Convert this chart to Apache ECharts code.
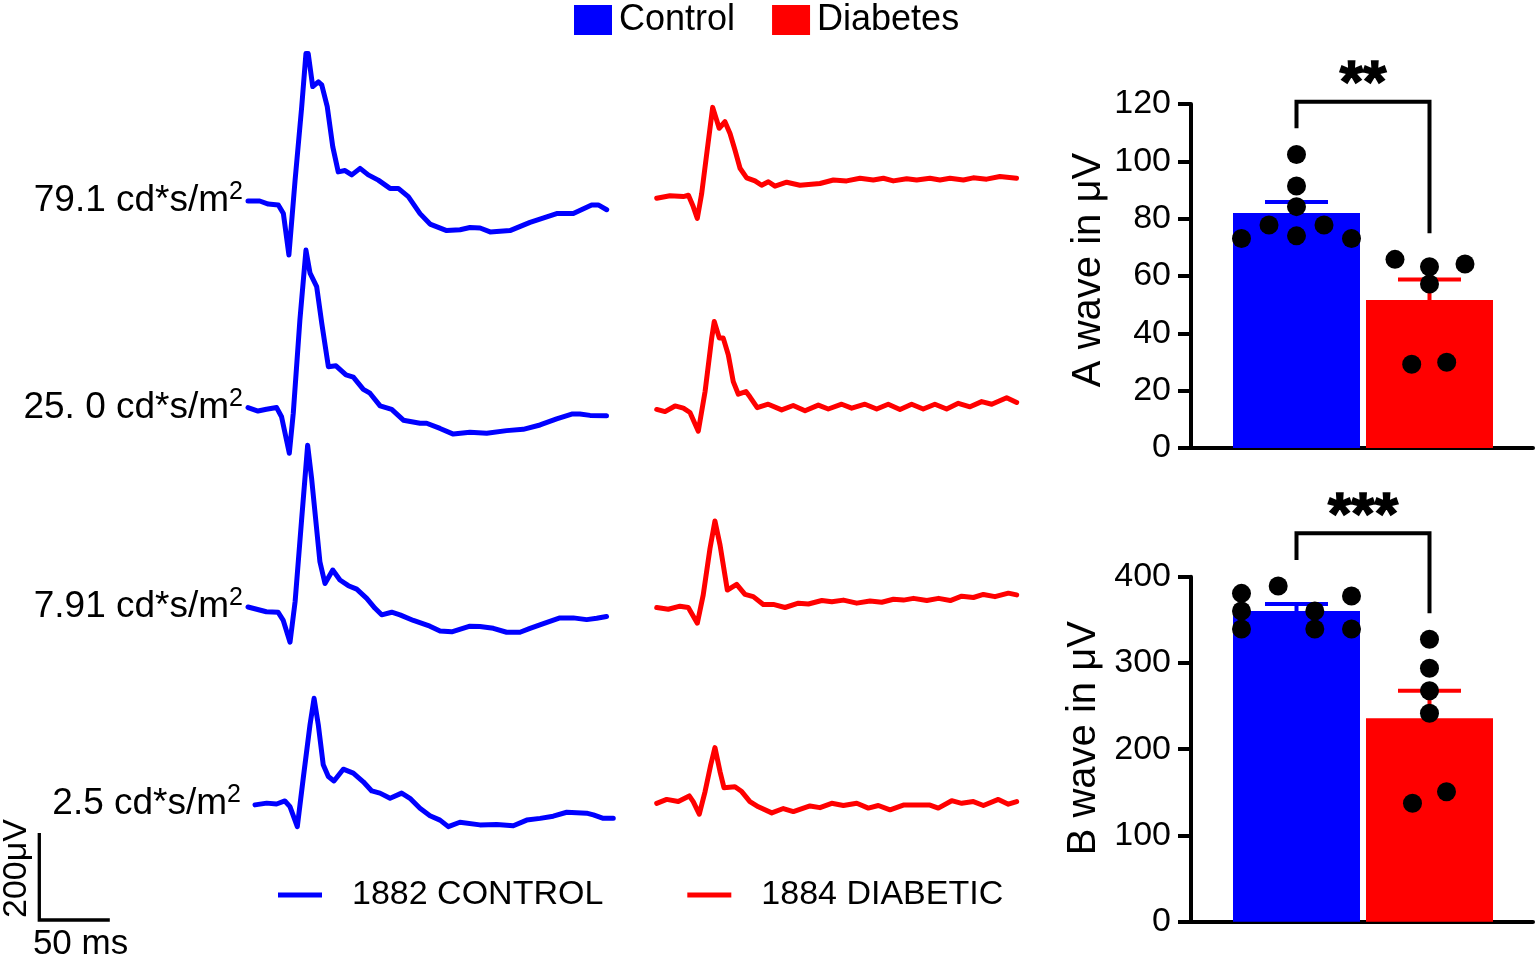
<!DOCTYPE html>
<html><head><meta charset="utf-8">
<script src="https://cdn.jsdelivr.net/npm/echarts@6/dist/echarts.min.js"></script>
<style>html,body{margin:0;padding:0;background:#fff;}#c{width:1535px;height:955px;}</style>
</head><body><div id="c"></div>
<script>
// ---------------- DATA ----------------
// ERG traces: [time ms, amplitude µV]
const stimLabels = ['79.1 cd*s/m', '25. 0 cd*s/m', '7.91 cd*s/m', '2.5 cd*s/m'];
const traceNames = ['1882 CONTROL', '1884 DIABETIC'];

const blue79 = [[0,0],[8.3,0],[14.4,-7],[21.5,-9],[25.1,-29],[29.0,-124],[33.4,48],[38.1,217],[41.1,339],[42.7,339],[45.9,263],[49.9,274],[52.3,267],[56.2,217],[60.1,125],[64.0,67],[68.8,70],[73.6,60],[79.5,75],[85.3,60],[92.4,48],[100.7,29],[106.6,29],[113.7,10],[122.0,-29],[129.1,-53],[140.9,-68],[150.4,-66],[157.4,-61],[164.6,-62],[171.7,-71],[185.8,-68],[200.0,-49],[218.9,-29],[230.7,-29],[243.7,-9],[248.4,-9],[254.4,-20]];
const blue25 = [[0,1],[7.1,-7],[13.1,-3],[20.3,1],[23.8,-20],[29.3,-104],[32.1,-12],[36.8,202],[41.1,363],[44,310],[48.7,279],[52.3,195],[57,95],[62.4,97],[69.5,76],[74.7,71],[81.8,43],[86.5,34],[93.7,5],[101.9,-3],[110.2,-28],[122,-35],[126.7,-35],[136.2,-47],[145.6,-60],[157.4,-56],[169.3,-58],[183.4,-52],[195.2,-49],[207.1,-39],[218.9,-25],[229.6,-14],[235.4,-14],[242.6,-17],[254.3,-18]];
const blue791 = [[0,0],[13,-11],[21.3,-12],[24.9,-30],[29.8,-81],[33.4,12],[38.1,204],[42.3,372],[45.1,296],[51,104],[54.6,54],[60.1,85],[65.2,62],[71.2,49],[77.1,41],[84.2,20],[90.1,-3],[94.8,-18],[101.9,-12],[107.8,-18],[117.3,-31],[129,-44],[136.2,-55],[144.5,-57],[157.4,-44],[164.5,-45],[174,-49],[183.4,-58],[192.9,-58],[200,-49],[209.5,-38],[221.2,-25],[230.7,-25],[240.2,-29],[247.3,-26],[254.3,-22]];
const blue2_5 = [[0,-2],[8.3,2],[15.3,0],[21.2,7],[24.8,-6],[30,-52],[34.2,59],[39,182],[41.9,243],[44.9,182],[48.4,90],[52,63],[56,53],[62.6,80],[69.7,71],[76.8,51],[82.8,30],[88.6,25],[95.8,13],[104,25],[109.9,13],[117,-10],[124.1,-27],[131.2,-37],[137.1,-52],[145.3,-42],[159.5,-48],[171.4,-47],[183.2,-50],[192.7,-37],[202.2,-33],[211.5,-28],[221.1,-19],[235.2,-21],[240,-25],[247,-33],[254.1,-33]];

const red79 = [[0.5,0],[9.9,6],[19.4,4],[23,7],[26.4,-19],[29.3,-46],[32.4,11],[36,103],[40.2,209],[43,180],[44.8,161],[48.9,176],[52.5,149],[56,111],[59.6,69],[64.3,47],[70.2,40],[74.9,30],[79.7,38],[84.4,28],[92.7,37],[102.1,30],[116.3,34],[125.8,42],[135.2,40],[144.7,46],[154.1,42],[161.3,46],[168.3,40],[177.8,45],[184.9,42],[194.3,46],[201.4,42],[208.5,46],[218,42],[225,47],[234.5,44],[243.9,50],[255.7,46]];
const red25 = [[0.5,-1],[6.4,-6],[13.5,7],[19.4,2],[24.1,-8],[30,-51],[34.8,40],[39.5,163],[41.3,201],[44.9,163],[47.7,163],[51.3,124],[54.8,63],[58.4,34],[63.8,40],[66.6,28],[71.8,3],[79.6,11],[89.1,-2],[97.3,8],[105.7,-4],[115.1,9],[122.2,0],[131.7,11],[138.8,2],[148.2,11],[156.5,0],[164.7,11],[173,-1],[181.3,11],[189.5,0],[197.8,11],[206.1,0],[214.4,13],[222.7,5],[231,17],[238.1,11],[248.7,26],[255.8,15]];
const red791 = [[0.5,0],[8.7,-4],[17,3],[22.9,0],[29.3,-36],[33.5,29],[38.3,136],[41.8,199],[45.4,144],[50.6,40],[57.2,53],[63.1,30],[69,25],[76.1,7],[83.2,7],[91.5,0],[101,10],[108.1,8],[117.6,16],[124.7,13],[132.9,17],[142.4,10],[151.8,15],[160.1,12],[168.4,19],[175.5,17],[182.6,21],[192.1,16],[200.4,21],[208.7,16],[216.8,26],[225.1,23],[232.2,30],[240.4,25],[249.9,33],[255.8,29]];
const red2_5 = [[0.5,-3],[7.6,6],[15.8,1],[23.6,14],[26.4,1],[30.7,-28],[34.8,24],[38.8,85],[41.8,125],[45.4,70],[48.2,33],[56,35],[60.8,24],[66.6,1],[72.6,-11],[82.1,-25],[90.3,-15],[97.4,-22],[109.2,-9],[116.3,-13],[124.6,-3],[132.9,-8],[142.4,-3],[150.6,-14],[157.7,-8],[166,-18],[175.4,-7],[184.9,-7],[194.3,-7],[200.2,-14],[209.7,3],[216.8,-3],[225.1,1],[232.2,-8],[242.8,6],[249.9,-5],[255.8,1]];

// Scale bar values
const scaleUV = 200, scaleMs = 50;

// Bar charts
const groups = ['Control', 'Diabetes'];
const aMean = [82.0, 51.6];
const aSem = [3.8, 7.2];
const aControl = [102.4, 91.4, 84.2, 77.8, 77.8, 73.1, 74.0, 73.1];
const aDiabetes = [65.8, 63.2, 64.2, 57.2, 29.2, 29.9];
const bMean = [360.2, 235.8];
const bSem = [8.2, 32.0];
const bControl = [380.7, 389.2, 377.6, 360.2, 360.2, 339.4, 339.4, 339.4];
const bDiabetes = [327.4, 293.8, 267.8, 241.6, 150.7, 137.3];
// significance brackets: [left leg bottom, top, right leg bottom] in µV
const aBracket = [111.5, 120.8, 74.9];
const bBracket = [419.4, 450.3, 357.6];
const aStars = '**', bStars = '***';

// ---------------- LAYOUT / STYLE ----------------
const FONT = '"Liberation Sans", Arial, Helvetica, sans-serif';
const BLUE = '#0000ff', RED = '#ff0000', BLACK = '#000000';
const PX_MS = 1.41, PX_UV = 0.435;
const T_MIN = -150, T_MAX = 400, T_SPAN = 260;
const blueRows = [{x0:248,y0:201,m:5},{x0:248,y0:408,m:5},{x0:248,y0:607,m:5},{x0:255,y0:804,m:14}];
const redRows = [{x0:656,y0:198.3},{x0:656,y0:409},{x0:656,y0:607.5},{x0:656,y0:802}];
// jitter (px) for the dots
const aCtrlDx = [0,0,0,-27.5,27.5,-55,0,55];
const aDiabDx = [-34.5,0,35.5,0,-17.8,17.2];
const bCtrlDx = [-55,-18.3,55,-55,18.3,-55,18.3,55];
const bDiabDx = [0,0,0,0,17,-17];
const BAR_XMIN = 0.2068, BAR_XMAX = 2.7782;

const blueData = [blue79, blue25, blue791, blue2_5];
const redData = [red79, red25, red791, red2_5];

const grids = [], xAxes = [], yAxes = [], series = [];

function addTraceGrid(row, data, color, name, labelIdx) {
  const gi = grids.length;
  grids.push({left: row.x0, top: row.y0 - T_MAX*PX_UV, width: T_SPAN*PX_MS,
              height: (T_MAX - T_MIN)*PX_UV, containLabel:false, outerBoundsMode:'none'});
  xAxes.push({type:'value', gridIndex:gi, min:0, max:T_SPAN, show:false});
  const y = {type:'value', gridIndex:gi, min:T_MIN, max:T_MAX, interval:50,
             axisLine:{show:false}, axisTick:{show:false}, splitLine:{show:false}};
  if (labelIdx != null) {
    y.axisLabel = {show:true, margin: row.m, color:BLACK,
      formatter: v => v === 0 ? '{a|' + stimLabels[labelIdx] + '}{s|2}' : '',
      rich: {a:{fontSize:37, fontFamily:FONT, color:BLACK, lineHeight:37, verticalAlign:'bottom'},
             s:{fontSize:25, fontFamily:FONT, color:BLACK, verticalAlign:'bottom', lineHeight:25, padding:[0,0,15,0]}}};
  } else {
    y.axisLabel = {show:false};
  }
  yAxes.push(y);
  series.push({type:'line', name:name, xAxisIndex:gi, yAxisIndex:gi, data:data,
    showSymbol:false, symbol:'none', silent:true, animation:false,
    lineStyle:{color:color, width:5, cap:'round', join:'round'}, itemStyle:{color:color}});
}
for (let i = 0; i < 4; i++) {
  addTraceGrid(blueRows[i], blueData[i], BLUE, traceNames[0], i);
  addTraceGrid(redRows[i], redData[i], RED, traceNames[1], null);
}

// scale bar
{
  const gi = grids.length;
  grids.push({left:39.3, top:920 - scaleUV*PX_UV, width:scaleMs*PX_MS, height:scaleUV*PX_UV, containLabel:false, outerBoundsMode:'none'});
  xAxes.push({type:'value', gridIndex:gi, min:0, max:scaleMs, axisLine:{show:false}, axisTick:{show:false},
    axisLabel:{show:false}, splitLine:{show:false}, name: scaleMs + ' ms', nameLocation:'middle', nameGap:7,
    nameTextStyle:{fontSize:35, fontFamily:FONT, color:BLACK, padding:[0,0,0,12]}});
  yAxes.push({type:'value', gridIndex:gi, min:0, max:scaleUV, axisLine:{show:false}, axisTick:{show:false},
    axisLabel:{show:false}, splitLine:{show:false}, name: scaleUV + 'μV', nameLocation:'middle', nameRotate:90, nameGap:6,
    nameTextStyle:{fontSize:34, fontFamily:FONT, color:BLACK, padding:[0,0,0,16]}});
  series.push({type:'line', xAxisIndex:gi, yAxisIndex:gi, data:[[0,scaleUV],[0,0],[scaleMs,0]],
    symbol:'none', silent:true, clip:false, lineStyle:{color:BLACK, width:3.3, join:'miter', cap:'butt'}});
}

function addBarChart(top, height, ymax, interval, title, gap, shift, mean, sem, ctrl, diab, ctrlDx, diabDx, bracket, stars, starY) {
  const gi = grids.length;
  grids.push({left:1191, top:top, width:342, height:height, containLabel:false, outerBoundsMode:'none'});
  xAxes.push({type:'value', gridIndex:gi, min:BAR_XMIN, max:BAR_XMAX,
    axisLine:{show:true, onZero:false, lineStyle:{color:BLACK, width:4}}, axisTick:{show:false},
    axisLabel:{show:false}, splitLine:{show:false}});
  yAxes.push({type:'value', gridIndex:gi, min:0, max:ymax, interval:interval,
    axisLine:{show:true, onZero:false, lineStyle:{color:BLACK, width:4}},
    axisTick:{show:true, length:13, lineStyle:{color:BLACK, width:4}},
    axisLabel:{fontSize:34, fontFamily:FONT, color:BLACK, margin:20},
    splitLine:{show:false}, name:title, nameLocation:'middle', nameRotate:90, nameGap:gap,
    nameTextStyle:{fontSize:40, fontFamily:FONT, color:BLACK, padding:[0,0,0,shift]}});
  const colors = [BLUE, RED];
  groups.forEach((g, k) => {
    series.push({type:'bar', name:g, xAxisIndex:gi, yAxisIndex:gi, stack:'s'+gi,
      data:[[k+1, mean[k]]], barWidth:127, itemStyle:{color:colors[k]}, silent:true, animation:false, z:2});
  });
  series.push({type:'custom', xAxisIndex:gi, yAxisIndex:gi, clip:false, silent:true, animation:false, z:3,
    data: groups.map((g,k) => [k+1, mean[k], sem[k]]),
    renderItem: (params, api) => {
      const x = api.value(0), m = api.value(1), s = api.value(2);
      const p0 = api.coord([x, m]), p1 = api.coord([x, m + s]);
      const c = colors[params.dataIndex];
      return {type:'group', children:[
        {type:'line', shape:{x1:p0[0], y1:p0[1], x2:p1[0], y2:p1[1]}, style:{stroke:c, lineWidth:4}},
        {type:'line', shape:{x1:p1[0]-31.5, y1:p1[1], x2:p1[0]+31.5, y2:p1[1]}, style:{stroke:c, lineWidth:4}}
      ]};
    }});
  const dots = [];
  ctrl.forEach((v,i) => dots.push({value:[1, v], symbolOffset:[ctrlDx[i], 0]}));
  diab.forEach((v,i) => dots.push({value:[2, v], symbolOffset:[diabDx[i], 0]}));
  series.push({type:'scatter', xAxisIndex:gi, yAxisIndex:gi, data:dots, symbol:'circle', symbolSize:19,
    itemStyle:{color:BLACK, opacity:1}, clip:false, silent:true, animation:false, z:5});
  series.push({type:'line', xAxisIndex:gi, yAxisIndex:gi, symbol:'none', clip:false, silent:true, animation:false, z:5,
    data:[[1, bracket[0]], [1, bracket[1]], [2, bracket[1]], [2, bracket[2]]],
    lineStyle:{color:BLACK, width:4, join:'miter', cap:'butt'}});
  series.push({type:'scatter', xAxisIndex:gi, yAxisIndex:gi, data:[[1.5, starY]], symbolSize:0,
    itemStyle:{color:BLACK, opacity:1}, clip:false, silent:true, animation:false, z:6,
    label:{show:true, position:'inside', formatter:stars, fontSize:60, fontWeight:'bold', fontFamily:FONT,
           color:BLACK, opacity:1, textBorderColor:BLACK, textBorderWidth:1.5}});
}
addBarChart(104, 344, 120, 20, 'A wave in μV', 82, 12, aMean, aSem, aControl, aDiabetes, aCtrlDx, aDiabDx, aBracket, aStars, 126.5);
addBarChart(576.7, 345, 400, 100, 'B wave in μV', 87, 22, bMean, bSem, bControl, bDiabetes, bCtrlDx, bDiabDx, bBracket, bStars, 468.5);

const option = {
  backgroundColor:'#ffffff',
  animation:false,
  grid: grids, xAxis: xAxes, yAxis: yAxes, series: series,
  legend: [
    {data: groups, left:574, top:2, padding:0, icon:'rect', itemWidth:38, itemHeight:30, itemGap:37,
     selectedMode:false, textStyle:{fontSize:36, fontFamily:FONT, color:BLACK, padding:[0,0,0,2]}},
    {data: traceNames, left:278, top:878, padding:0, icon:'path://M0,0L44,0L44,5L0,5Z', itemWidth:44, itemHeight:5, itemGap:84,
     selectedMode:false, textStyle:{fontSize:34, fontFamily:FONT, color:BLACK, padding:[0,0,0,25]}}
  ]
};
const chart = echarts.init(document.getElementById('c'), null, {renderer:'canvas'});
chart.setOption(option);
</script></body></html>
